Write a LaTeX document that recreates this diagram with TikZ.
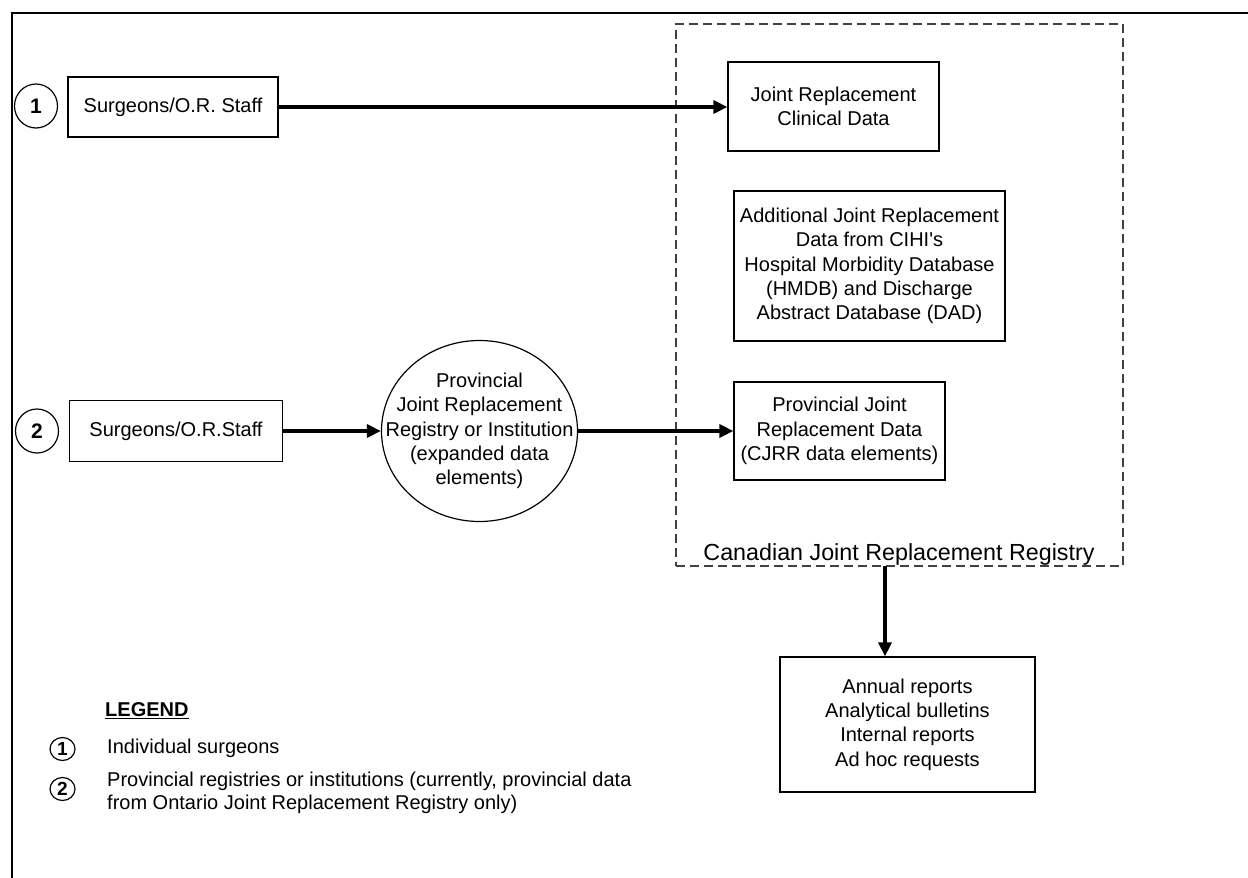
\documentclass[tikz,border=0pt]{standalone}
\usepackage{fontspec}
\setmainfont{Liberation Sans}
\usetikzlibrary{shapes.geometric,arrows.meta}
\newcommand\boxfont{\fontsize{20}{24.3}\selectfont}
\newcommand\legfont{\fontsize{20}{22.5}\selectfont}
\tikzset{
  box/.style={draw=black, line width=1.2pt, inner sep=0pt, align=center, font=\boxfont},
  numc/.style={ellipse, draw=black, line width=1.2pt, inner sep=0pt, minimum width=43pt, minimum height=44pt, font=\bfseries\fontsize{21}{21}\selectfont},
  legnum/.style={ellipse, draw=black, line width=1.2pt, inner sep=0pt, minimum width=25pt, minimum height=23pt, font=\bfseries\fontsize{19}{19}\selectfont},
  legtext/.style={anchor=west, inner sep=0pt, align=left, font=\legfont},
  flow/.style={line width=3.2pt, -{Triangle[length=14pt,width=13pt]}},
  regbox/.style={draw=black!75, line width=1.2pt, dash pattern=on 9pt off 5pt, inner sep=0pt}
}
\begin{document}
\begin{tikzpicture}[x=1pt,y=-1pt]
\useasboundingbox (0,0) rectangle (1248,878);
% outer frame (left and top edges visible)
\draw[line width=2pt] (12,878) -- (12,12.5) -- (1248,12.5);

% registry (dashed)
\node[regbox, minimum width=447pt, minimum height=542pt] (cjrr) at (899.5,295) {};
\node[anchor=base, inner sep=0pt, font=\fontsize{23.3}{28}\selectfont] (cjrrlabel) at (899,560) {Canadian Joint Replacement Registry};

% row 1
\node[numc] (n1) at (36,106) {1};
\node[box, minimum width=210pt, minimum height=60pt] (s1) at (173,107) {Surgeons/O.R. Staff};
\node[box, minimum width=211pt, minimum height=89pt] (jrcd) at (833.5,106.5) {Joint Replacement\\Clinical Data};

% additional data
\node[box, minimum width=271pt, minimum height=150pt] (add) at (869.5,266) {Additional Joint Replacement\\Data from CIHI\textquotesingle s\\Hospital Morbidity Database\\(HMDB) and Discharge\\Abstract Database (DAD)};

% row 2
\node[numc] (n2) at (37,431) {2};
\node[box, minimum width=213pt, minimum height=61pt] (s2) at (176,431) {Surgeons/O.R.Staff};
\node[ellipse, draw=black, line width=1.2pt, inner sep=0pt, minimum width=196pt, minimum height=181pt] (prov) at (479.5,431) {};
\node[inner sep=0pt, align=center, font=\boxfont] (provtext) at (prov.center) {Provincial\\Joint Replacement\\Registry or Institution\\(expanded data\\elements)};
\node[box, minimum width=211pt, minimum height=98pt] (pjrd) at (839.5,431) {Provincial Joint\\Replacement Data\\(CJRR data elements)};

% outputs
\node[box, minimum width=255pt, minimum height=135pt] (out) at (907.5,724.5) {Annual reports\\Analytical bulletins\\Internal reports\\Ad hoc requests};

% connectors
\draw[flow] (s1.east) -- (s1.east -| jrcd.west);
\draw[flow] (s2.east) -- (prov.west);
\draw[flow] (prov.east) -- (prov.east -| pjrd.west);
\coordinate (down) at (885,566);
\draw[flow] (down) -- (down |- out.north);

% legend
\node[anchor=west, inner sep=0pt, font=\bfseries\fontsize{20}{22}\selectfont] (legtitle) at (105,711) {\underline{LEGEND}};
\node[legnum] (l1) at (62.5,749) {1};
\node[legtext] (l1t) at (107,748) {Individual surgeons};
\node[legnum] (l2) at (62.5,789) {2};
\node[legtext] (l2t) at (107,793) {Provincial registries or institutions (currently, provincial data\\from Ontario Joint Replacement Registry only)};
\end{tikzpicture}
\end{document}
